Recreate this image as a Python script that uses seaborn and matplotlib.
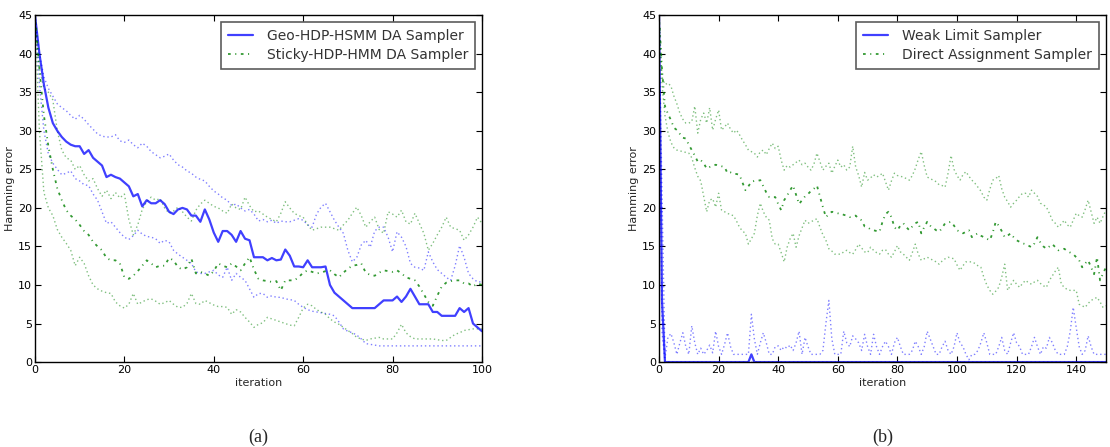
import numpy as np
import pandas as pd
import matplotlib
matplotlib.use("Agg")
import matplotlib.pyplot as plt
import seaborn as sns

# (a) Geo-HDP-HSMM vs Sticky-HDP-HMM, Hamming error per iteration (0..100)
geo_median = [45, 40, 36, 33, 31, 30, 29.2, 28.6, 28.2, 28, 28, 27, 27.5, 26.5, 26, 25.5, 24, 24.3, 24, 23.8,
              23.3, 22.8, 21.5, 21.8, 20.2, 21, 20.6, 20.6, 21, 20.5, 19.5, 19.2, 19.8, 20, 19.8, 19, 19, 18.2, 19.8, 18.5,
              16.8, 15.6, 17, 17, 16.5, 15.6, 17, 16, 15.8, 13.6, 13.6, 13.6, 13.2, 13.5, 13.2, 13.3, 14.6, 13.8, 12.4, 12.4,
              12.3, 13.2, 12.3, 12.3, 12.3, 12.4, 10, 9, 8.5, 8, 7.5, 7, 7, 7, 7, 7, 7, 7.5, 8, 8,
              8, 8.5, 7.8, 8.5, 9.5, 8.5, 7.5, 7.5, 7.5, 6.5, 6.5, 6, 6, 6, 6, 7, 6.5, 7, 5, 4.5, 4]
geo_upper = [45, 40, 37, 35.5, 34.5, 33.5, 33, 32.6, 32, 31.5, 32, 31.5, 30.8, 30.2, 29.6, 29.3, 29.2, 29.2, 29.5, 28.7,
             28.5, 28.8, 28.2, 27.8, 28.4, 28, 27.3, 26.9, 26.5, 26.7, 27, 26.2, 25.6, 25.3, 24.8, 24.5, 24, 23.7, 23.5, 22.8,
             22.2, 21.8, 21.3, 21, 20.3, 20.5, 20, 19.6, 19.8, 19.2, 18.3, 18.5, 18.2, 18.4, 18, 18.3, 18.2, 18.2, 18.4, 18.6,
             18.4, 17.8, 17.5, 19.2, 20.1, 20.6, 19.5, 18.4, 17.5, 16.7, 14.5, 13, 13.6, 15.2, 15.8, 14.9, 17, 17.5, 17.5, 16.2,
             14.3, 16.9, 16.2, 15, 12.8, 12.3, 12.2, 11.9, 14.3, 13, 12, 11.5, 11, 10.6, 12.5, 15.1, 13.6, 11.5, 10.8, 10.4, 10.4]
geo_lower = [45, 36, 30, 27, 25.8, 25, 24.3, 24.5, 24.8, 23.8, 23.5, 23, 22.9, 21.8, 21, 19.5, 18, 18.2, 17.5, 16.8,
             16.2, 15.9, 16.4, 17.1, 16.6, 16.3, 16.2, 16, 15.4, 15.8, 15.6, 14.5, 14, 13.6, 13.2, 12.8, 11.7, 11.5, 11.5, 11.7,
             11.9, 11.3, 11, 12.3, 10.6, 11.5, 11, 10.6, 9.5, 8.4, 8.9, 8.9, 8.4, 8.6, 8.4, 8.4, 8.2, 8.1, 8, 7.5,
             7.1, 6.8, 6.6, 6.5, 6.4, 6.3, 6.2, 6, 5.2, 4.3, 4, 3.8, 3.5, 3, 2.4, 2.3, 2.2, 2.1, 2.1, 2.1,
             2.1, 2.1, 2.1, 2.1, 2.1, 2.1, 2.1, 2.1, 2.1, 2.1, 2.1, 2.1, 2.1, 2.1, 2.1, 2.1, 2.1, 2.1, 2.1, 2.1, 2.1]
sticky_median = [45, 38, 32, 28, 25, 22.5, 21, 19.7, 19, 18.5, 17.8, 17, 16.5, 15.6, 15, 14.5, 13.5, 13.2, 13.2, 12.8,
                 11, 10.8, 11.2, 11.8, 12.5, 13.2, 12.8, 12.3, 12.5, 12.5, 13.5, 13.2, 12.3, 12, 12.3, 13.4, 11.5, 11.7, 11.5, 11.2,
                 11.8, 12.8, 12.5, 12.3, 12.8, 12.4, 11.9, 12.8, 13.6, 12, 10.8, 10.6, 10.5, 10.4, 10.5, 9.3, 10.6, 10.6, 10.6, 11,
                 11.6, 11.9, 11.7, 11.5, 11.6, 11.8, 11.9, 11.4, 11, 11.6, 12.1, 12.5, 12.6, 12.8, 11.6, 11.3, 11.2, 11.6, 11.9, 11.8,
                 11.7, 11.9, 11.5, 11, 10.8, 10.6, 9.8, 8.8, 7.8, 7.3, 8.6, 9.8, 10.3, 10.5, 10.6, 10.6, 10.2, 10.2, 9.8, 10.2, 10]
sticky_upper = [45, 38, 35.5, 35, 34, 30, 27.5, 26.5, 26.2, 25, 25.5, 24.3, 23.5, 23.8, 22.5, 21.5, 22.3, 21.2, 22, 21.3,
                21.8, 18.5, 16.5, 17.8, 19.8, 20.8, 21.4, 21, 21.2, 20, 19.3, 19.6, 20.1, 19.5, 18.8, 18.3, 19.7, 20.5, 21, 20.6,
                20.2, 20, 19.6, 19.3, 20.5, 20, 19.8, 21.4, 20.3, 19.5, 19.6, 19.2, 18.8, 18.5, 18.2, 19.3, 20.8, 20, 19.3, 19,
                18.8, 17.8, 17.1, 17.3, 17.5, 17.5, 17.5, 17.3, 17.1, 17.8, 18.4, 19.3, 20.1, 19, 17.5, 18.2, 18.8, 17.2, 16.7, 19.5,
                19.2, 18.8, 19.7, 18.2, 17.9, 19.3, 18, 16.7, 14.5, 15.4, 16.5, 17.5, 18.8, 17.5, 17.3, 17.1, 15.8, 16.5, 17.5, 18.8, 18]
sticky_lower = [45, 30, 22, 20, 19, 17.2, 16.2, 15.4, 14.5, 12.5, 13.6, 12.8, 11.2, 10, 9.5, 9.2, 9, 8.9, 7.8, 7.3,
                7, 7.5, 8.9, 7.5, 7.8, 8.1, 8.2, 7.9, 7.5, 7.7, 8, 7.5, 7.1, 7.1, 7.6, 8.9, 7.6, 7.5, 8, 7.7,
                7.4, 7.2, 7.2, 7.1, 6.2, 6.8, 6.5, 5.8, 5.2, 4.5, 4.9, 5.1, 5.8, 5.6, 5.4, 5.2, 5, 4.8, 4.7, 5.8,
                7, 7.5, 7.3, 6.8, 6.5, 6.2, 5.6, 5.2, 4.9, 4.5, 4.1, 3.7, 3.2, 3, 2.8, 3, 3.1, 3.2, 3, 3,
                3, 3.8, 4.9, 3.8, 3.3, 3, 3, 3, 3, 3, 2.9, 2.8, 2.8, 3.2, 3.6, 3.8, 4.1, 4.2, 4.3, 4.3, 4.3]

# (b) Weak Limit vs Direct Assignment sampler (0..150)
weak_median = [45, 8] + [0] * 29 + [1] + [0] * 119
weak_upper = [45, 22, 0.5, 3.2, 3.7, 2.5, 1, 2.5, 3.8, 2, 1, 4.7, 2.5, 1, 1.8, 1, 1.5, 2.2, 1.2, 4,
              2, 1, 2.3, 3.8, 2, 1, 1, 1, 1, 1, 1, 6.2, 3, 1, 2.5, 3.8, 2.5, 1, 1, 2,
              2.1, 1.5, 2, 1.8, 2.2, 1.5, 2.5, 4, 1, 3.2, 2, 1, 1, 1, 1, 1.5, 5, 8, 3, 1,
              1, 1, 4, 2.5, 2, 3.4, 3, 2.5, 1.5, 3.6, 2, 1, 3.6, 2, 1, 2, 2.7, 2, 1, 2.5,
              3.2, 2, 1, 1, 1, 1.5, 2.7, 2, 1, 2, 4, 3, 2, 1, 1, 2, 2.7, 1.5, 1, 2,
              3.8, 2.5, 2, 1, 0.3, 1, 1, 1.5, 2.5, 3.8, 2.5, 1, 1, 1, 2, 3.2, 1.5, 1, 2.5, 3.8,
              2.5, 2, 1, 1, 1, 2, 3.2, 2, 1, 2, 1.8, 3.2, 2.5, 1.5, 1, 1, 1, 2, 4, 7.1,
              4.5, 2, 1, 1.5, 3.4, 2, 1, 1, 1, 1, 1]
weak_lower = [45, 4] + [0] * 149
direct_median = [45, 38, 33.2, 32.2, 31.4, 30.4, 30.1, 29.6, 29.1, 29, 28.2, 27.5, 26.8, 26, 26.2, 25.8, 25.1, 25.3, 25.4, 25.6,
                 25.5, 25.4, 25.3, 24.5, 24.6, 24.4, 24.4, 24.3, 23.3, 22.3, 22.8, 23.4, 23.5, 23.5, 23.6, 22.8, 22, 21.4, 21.4, 21.4,
                 20.5, 19.7, 21, 21.6, 22.3, 22.9, 21.7, 20.5, 21, 21.5, 21.8, 22.2, 22.5, 22.9, 21.5, 20.1, 18.8, 19.2, 19.5, 19.4,
                 19.3, 19.3, 19.1, 19, 18.8, 18.9, 19, 18.6, 18.4, 17.6, 17.5, 17.2, 17.1, 17, 16.9, 18.2, 19.2, 19.5, 18.8, 17.5,
                 17.1, 17.7, 18, 17.5, 17.1, 17.6, 18, 18.2, 16.7, 17.5, 18.2, 17.7, 17.4, 17.1, 16.9, 17.4, 18, 18.1, 18.2, 17.7,
                 17.1, 16.9, 16.7, 16.9, 17.1, 16.2, 16.5, 16.7, 16.4, 16.2, 16, 15.8, 16.8, 18.2, 17.7, 17, 16.2, 16.4, 16.7, 16.2,
                 15.8, 15.6, 15.4, 15.3, 15.1, 14.9, 15.4, 16.2, 15.5, 15, 14.7, 15, 15.3, 14.9, 14.5, 14.6, 14.7, 14.4, 14.2, 14,
                 13.6, 13.2, 12.3, 12.8, 13.2, 12.3, 11.4, 13.6, 10.6, 11.5, 12.3]
direct_upper = [45, 37, 36, 36.2, 35.8, 34.5, 33.5, 32.3, 31.5, 31, 31, 31.2, 33.2, 29.7, 31.5, 32.3, 31, 33, 30.1, 31.5,
                32.7, 30.1, 30.5, 31, 30.2, 29.7, 30.1, 29.5, 28.8, 28.2, 27.5, 27.3, 27.1, 26.6, 27.3, 27.5, 26.9, 27.7, 28.4, 27.7,
                28, 26.2, 24.9, 25.5, 25.3, 25.6, 25.9, 26.2, 25.6, 25.8, 25.3, 24.9, 25.7, 27.1, 26, 24.9, 25.4, 25.8, 24.5, 25.4,
                26.2, 25.3, 25.6, 24.9, 25.3, 28, 25.3, 24.2, 22.7, 24.6, 23.6, 23.9, 24.3, 24, 24.2, 24.5, 23.4, 22.3, 23.5, 24.5,
                24.2, 24.1, 24, 23.8, 23.6, 24.2, 25.1, 26.3, 27.3, 25.5, 24, 23.8, 23.6, 23.4, 23, 22.9, 22.7, 24.5, 26.8, 25,
                24.2, 23.6, 24.3, 24.7, 24.1, 23.6, 23.2, 22.7, 22.2, 21.4, 21, 22.4, 23.6, 23.8, 24.2, 22.5, 21.4, 20.8, 20.1, 20.6,
                21, 21.5, 21.9, 21.9, 21.4, 22.3, 21.9, 21.5, 20.6, 20.4, 20.1, 19.3, 18.4, 18, 17.5, 17.9, 18.4, 17.8, 17.5, 18.4,
                19.3, 19, 18.8, 19.8, 21, 19.5, 18, 18.8, 18, 18.9, 19.7]
direct_lower = [45, 36, 32, 29.8, 28.5, 27.8, 27.5, 27.4, 27.3, 27.2, 27.1, 26.5, 25.2, 24.1, 23.5, 21.5, 19.5, 21, 21.2, 20.1,
                21.9, 19.7, 19.5, 19.3, 19.1, 19, 18.3, 17.5, 17, 16.7, 15.3, 16, 16.7, 19, 20.6, 19.5, 18.8, 18.4, 16, 15.3,
                15.3, 14.2, 13, 14.9, 16, 16.7, 14.9, 16.4, 17.4, 18.4, 18, 18.2, 18.4, 18.6, 17.5, 16.5, 15.8, 14.7, 14.4, 14,
                14, 14, 14.3, 14.5, 14.2, 14, 14.6, 15.3, 14.8, 14.3, 14.2, 14.9, 14.5, 14.2, 14, 14.5, 14.6, 14, 13.6, 14.3,
                15.1, 14.3, 14, 13.6, 13.2, 14.2, 15.3, 14, 13.2, 13.4, 13.6, 13.4, 13.2, 13, 12.7, 13.1, 13.4, 13.6, 13.5, 13.4,
                12.6, 11.9, 12.5, 13, 13, 13, 12.8, 12.5, 12.3, 11, 10, 9.3, 8.8, 9.2, 9.7, 11, 12.7, 9.3, 10, 10.6,
                10.1, 9.7, 10.2, 10.6, 10.3, 10.1, 10.4, 10.6, 10.2, 9.9, 9.7, 10.6, 11.2, 11.8, 12.3, 10.1, 9.7, 9.4, 9.3, 9.3,
                9.3, 7.5, 7.3, 7.1, 7.6, 8, 8.2, 8.4, 7.8, 7.1, 7.3]

DOT = (0, (1, 2))
DASHDOT = (0, (1.5, 2.5, 0.6, 2.5))

panels = [
    {
        "ax_rect": [0.0315, 0.190, 0.4027, 0.776],
        "xlim": 100, "xticks": [0, 20, 40, 60, 80, 100],
        "series": [
            (geo_upper, "blue", DOT, 1.0, 0.5, None),
            (geo_lower, "blue", DOT, 1.0, 0.5, None),
            (sticky_upper, "green", DOT, 1.0, 0.5, None),
            (sticky_lower, "green", DOT, 1.0, 0.5, None),
            (geo_median, "blue", "-", 1.6, 0.75, "Geo-HDP-HSMM DA Sampler"),
            (sticky_median, "green", DASHDOT, 1.3, 0.8, "Sticky-HDP-HMM DA Sampler"),
        ],
        "caption": "(a)",
    },
    {
        "ax_rect": [0.5937, 0.190, 0.4027, 0.776],
        "xlim": 150, "xticks": [0, 20, 40, 60, 80, 100, 120, 140],
        "series": [
            (weak_upper, "blue", DOT, 1.0, 0.5, None),
            (weak_lower, "blue", DOT, 1.0, 0.5, None),
            (direct_upper, "green", DOT, 1.0, 0.5, None),
            (direct_lower, "green", DOT, 1.0, 0.5, None),
            (weak_median, "blue", "-", 1.6, 0.75, "Weak Limit Sampler"),
            (direct_median, "green", DASHDOT, 1.3, 0.8, "Direct Assignment Sampler"),
        ],
        "caption": "(b)",
    },
]

sns.set_style("ticks", {"xtick.direction": "in", "ytick.direction": "in",
                        "axes.edgecolor": "black"})
plt.rcParams["font.family"] = ["DejaVu Sans"]

fig = plt.figure(figsize=(11.1, 4.47), dpi=100)

for p in panels:
    ax = fig.add_axes(p["ax_rect"])
    for vals, color, ls, lw, alpha, label in p["series"]:
        df = pd.DataFrame({"iteration": np.arange(len(vals)), "err": vals})
        sns.lineplot(data=df, x="iteration", y="err", ax=ax, color=color,
                     linestyle=ls, linewidth=lw, alpha=alpha, label=label,
                     legend=label is not None)
    ax.set_xlim(0, p["xlim"])
    ax.set_ylim(0, 45)
    ax.set_xticks(p["xticks"])
    ax.set_yticks(range(0, 46, 5))
    ax.tick_params(axis="both", which="both", top=True, right=True, direction="in",
                   length=4, width=0.8, labelsize=8, pad=2, colors="black")
    for s in ax.spines.values():
        s.set_linewidth(1.0)
        s.set_color("black")
    ax.set_xlabel("iteration", fontsize=8, labelpad=2)
    ax.set_ylabel("Hamming error", fontsize=8, labelpad=2)
    leg = ax.legend(loc="upper right", fontsize=10, frameon=True, fancybox=False,
                    borderaxespad=0.5, handlelength=1.8, handletextpad=1.0,
                    borderpad=0.5, labelspacing=0.35)
    leg.get_frame().set_edgecolor("#333333")
    leg.get_frame().set_linewidth(1.2)
    for t in leg.get_texts():
        t.set_color("#333333")
    pos = ax.get_position()
    fig.text(pos.x0 + pos.width / 2, 0.003, p["caption"], ha="center", va="bottom",
             fontsize=13, family="Liberation Serif")

fig.savefig("out.png", dpi=100)
plt.close(fig)
